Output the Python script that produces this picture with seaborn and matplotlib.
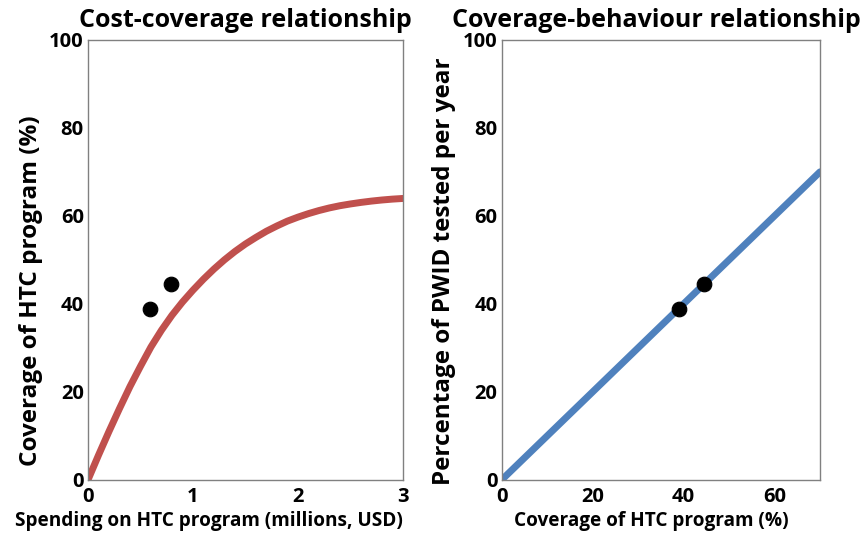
import numpy as np
import pandas as pd
import seaborn as sns
import matplotlib.pyplot as plt

# Cost-coverage curve
spend = [0.0, 0.1, 0.2, 0.3, 0.4, 0.5, 0.6, 0.7, 0.8, 0.9, 1.0,
         1.1, 1.2, 1.3, 1.4, 1.5, 1.6, 1.7, 1.8, 1.9, 2.0,
         2.1, 2.2, 2.3, 2.4, 2.5, 2.6, 2.7, 2.8, 2.9, 3.0]
coverage_curve = [0.0, 5.6, 11.0, 16.2, 21.2, 25.8, 30.2, 34.0, 37.4, 40.4, 43.1,
                  45.6, 47.9, 50.0, 51.9, 53.6, 55.1, 56.5, 57.7, 58.8, 59.7,
                  60.5, 61.2, 61.8, 62.3, 62.7, 63.05, 63.35, 63.6, 63.8, 63.95]
spend_pts = [0.59, 0.79]
coverage_pts = [38.9, 44.5]

# Coverage-behaviour line
cov_line = [0, 70]
tested_line = [0, 70]
cov_pts = [38.9, 44.5]
tested_pts = [38.9, 44.5]

sns.set_style("white")
plt.rcParams['font.family'] = ['Open Sans', 'DejaVu Sans']
plt.rcParams['font.weight'] = 'bold'
plt.rcParams['text.color'] = 'black'
plt.rcParams['axes.labelcolor'] = 'black'
plt.rcParams['xtick.color'] = 'black'
plt.rcParams['ytick.color'] = 'black'

fig = plt.figure(figsize=(8.65, 5.38), dpi=100)
ax1 = fig.add_axes([0.1017, 0.108, 0.364, 0.818])
ax2 = fig.add_axes([0.580, 0.108, 0.368, 0.818])

sns.lineplot(x=spend, y=coverage_curve, ax=ax1, color="#C0504D", linewidth=5)
sns.scatterplot(x=spend_pts, y=coverage_pts, ax=ax1, color="black", s=110, edgecolor="black", zorder=5)
ax1.set_xlim(0, 3)
ax1.set_ylim(0, 100)
ax1.set_xticks([0, 1, 2, 3])
ax1.set_yticks([0, 20, 40, 60, 80, 100])
ax1.set_title("Cost-coverage relationship", fontsize=18, fontweight="bold", x=0.5, y=1.0, pad=9)
ax1.set_xlabel("Spending on HTC program (millions, USD)", fontsize=13.7, fontweight="bold")
ax1.set_ylabel("Coverage of HTC program (%)", fontsize=17.5, fontweight="bold")
ax1.xaxis.set_label_coords(0.384, -0.07)
ax1.yaxis.set_label_coords(-0.143, 0.43)

sns.lineplot(x=cov_line, y=tested_line, ax=ax2, color="#4F81BD", linewidth=5)
sns.scatterplot(x=cov_pts, y=tested_pts, ax=ax2, color="black", s=110, edgecolor="black", zorder=5)
ax2.set_xlim(0, 70)
ax2.set_ylim(0, 100)
ax2.set_xticks([0, 20, 40, 60])
ax2.set_yticks([0, 20, 40, 60, 80, 100])
ax2.set_title("Coverage-behaviour relationship", fontsize=18, fontweight="bold", x=0.487, y=1.0, pad=9)
ax2.set_xlabel("Coverage of HTC program (%)", fontsize=13.7, fontweight="bold")
ax2.set_ylabel("Percentage of PWID tested per year", fontsize=17.5, fontweight="bold")
ax2.xaxis.set_label_coords(0.469, -0.07)
ax2.yaxis.set_label_coords(-0.142, 0.475)

for ax in (ax1, ax2):
    for sp in ax.spines.values():
        sp.set_visible(True)
        sp.set_color("#808080")
        sp.set_linewidth(1)
    ax.tick_params(direction="in", length=5, color="#808080", labelsize=14.5)
    ax.tick_params(axis="y", pad=3)
    ax.tick_params(axis="x", pad=5)
    for lab in ax.get_xticklabels() + ax.get_yticklabels():
        lab.set_fontweight("bold")

fig.savefig("out.png", dpi=100)
